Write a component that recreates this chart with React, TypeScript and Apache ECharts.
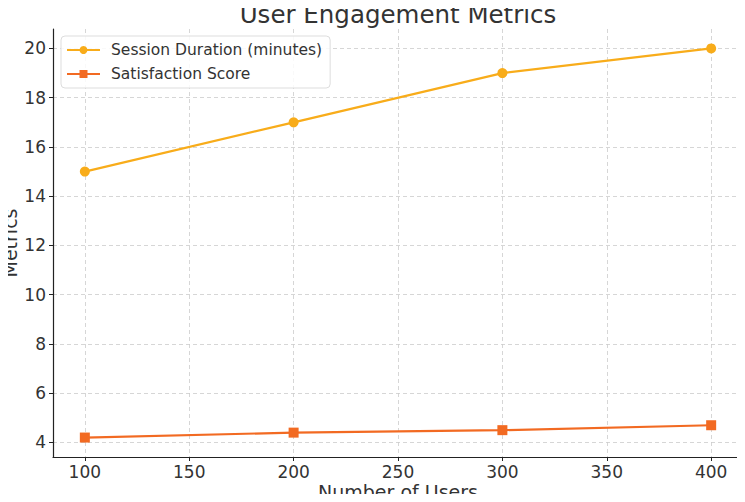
import React, { useEffect, useRef } from "react";
import * as echarts from "echarts";

const users = [100, 200, 300, 400];
const sessionDuration = [15, 17, 19, 20];
const satisfactionScore = [4.2, 4.4, 4.5, 4.7];
const xTicks = [100, 150, 200, 250, 300, 350, 400];
const yTicks = [4, 6, 8, 10, 12, 14, 16, 18, 20];

const FONT = "DejaVu Sans";
const TEXT = "#333333";

export default function App() {
  const ref = useRef<HTMLDivElement>(null);
  useEffect(() => {
    if (!ref.current) return;
    const chart = echarts.init(ref.current, undefined, { renderer: "svg" });
    const pair = (ys: number[]) => users.map((u, i) => [u, ys[i]]);
    chart.setOption({
      animation: false,
      backgroundColor: "#ffffff",
      title: {
        text: "User Engagement Metrics",
        left: 398,
        textAlign: "center",
        top: 1,
        padding: 0,
        textStyle: { fontFamily: FONT, fontSize: 24.5, fontWeight: "normal", color: TEXT, lineHeight: 26 },
      },
      legend: {
        orient: "vertical",
        left: 61,
        top: 36,
        padding: [6, 8, 6, 5],
        itemGap: 8,
        itemWidth: 33,
        itemHeight: 10,
        backgroundColor: "rgba(255,255,255,0.85)",
        borderColor: "#dddddd",
        borderWidth: 1,
        borderRadius: 4,
        textStyle: { fontFamily: FONT, fontSize: 15.5, color: TEXT, padding: [0, 0, 0, 6] },
        data: ["Session Duration (minutes)", "Satisfaction Score"],
      },
      grid: { left: 53, right: 2, top: 29, bottom: 45, containLabel: false, outerBoundsMode: "none" },
      xAxis: {
        type: "value",
        min: 84.75,
        max: 415.25,
        name: "Number of Users",
        nameLocation: "middle",
        nameGap: 25,
        nameMoveOverlap: false,
        nameTextStyle: { fontFamily: FONT, fontSize: 19, color: TEXT, verticalAlign: "top", lineHeight: 19 },
        axisLine: { show: true, lineStyle: { color: "#222222", width: 1.2 } },
        axisTick: { show: true, customValues: xTicks, length: 4, inside: false, lineStyle: { color: "#222222" } },
        axisLabel: { customValues: xTicks, fontFamily: FONT, fontSize: 17, color: TEXT, margin: 6 },
        splitLine: { show: true, lineStyle: { color: "#cccccc", type: [4, 3], width: 0.8 } },
      },
      yAxis: {
        type: "value",
        min: 3.41,
        max: 20.79,
        name: "Metrics",
        nameLocation: "middle",
        nameGap: 34,
        nameMoveOverlap: false,
        nameTextStyle: { fontFamily: FONT, fontSize: 19, color: TEXT, lineHeight: 19 },
        axisLine: { show: true, lineStyle: { color: "#222222", width: 1.2 } },
        axisTick: { show: true, customValues: yTicks, length: 4, inside: false, lineStyle: { color: "#222222" } },
        axisLabel: { customValues: yTicks, fontFamily: FONT, fontSize: 17, color: TEXT, margin: 7 },
        splitLine: { show: true, lineStyle: { color: "#cccccc", type: [4, 3], width: 0.8 } },
      },
      series: [
        {
          name: "Session Duration (minutes)",
          type: "line",
          data: pair(sessionDuration),
          symbol: "circle",
          symbolSize: 10,
          itemStyle: { color: "#F8AC1A" },
          lineStyle: { color: "#F8AC1A", width: 2.2 },
        },
        {
          name: "Satisfaction Score",
          type: "line",
          data: pair(satisfactionScore),
          symbol: "rect",
          symbolSize: 10,
          itemStyle: { color: "#F26A22" },
          lineStyle: { color: "#F26A22", width: 2.2 },
        },
      ],
    });
    return () => chart.dispose();
  }, []);
  return <div ref={ref} style={{ width: 745, height: 502, margin: -8 }} />;
}
